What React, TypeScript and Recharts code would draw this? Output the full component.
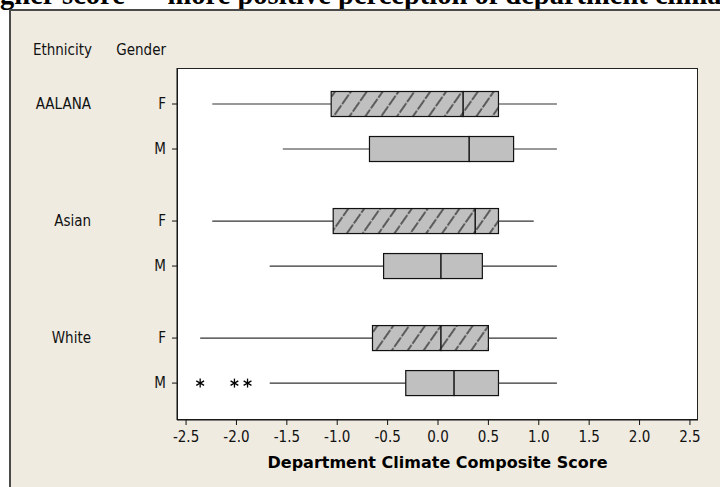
import React from 'react';
import { ComposedChart, Bar, XAxis, YAxis, ReferenceDot } from 'recharts';

const ethnicities = ['AALANA', 'Asian', 'White'];
const genders = ['F', 'M'];

// one entry per ethnicity x gender row, top to bottom
const whiskerLow = [-2.24, -1.54, -2.24, -1.67, -2.36, -1.67];
const q1 = [-1.06, -0.68, -1.04, -0.54, -0.65, -0.32];
const median = [0.25, 0.31, 0.37, 0.03, 0.03, 0.16];
const q3 = [0.6, 0.75, 0.6, 0.44, 0.5, 0.6];
const whiskerHigh = [1.18, 1.18, 0.95, 1.18, 1.18, 1.18];

const outlierRow = [5, 5, 5];
const outlierValue = [-2.36, -2.02, -1.89];

const xTicks = [-2.5, -2.0, -1.5, -1.0, -0.5, 0.0, 0.5, 1.0, 1.5, 2.0, 2.5];

const GROUP_STEP = 2.6;
const FONT = '"DejaVu Sans Condensed", "DejaVu Sans", sans-serif';

const rows = ethnicities.flatMap((eth, g) =>
  genders.map((gen, s) => {
    const i = g * genders.length + s;
    return {
      eth,
      gen,
      pos: g * GROUP_STEP + s,
      base: whiskerLow[i],
      lowW: q1[i] - whiskerLow[i],
      boxLo: median[i] - q1[i],
      boxHi: q3[i] - median[i],
      highW: whiskerHigh[i] - q3[i],
    };
  })
);

const Empty = () => <g />;

function Whisker(props: any) {
  const { x, y, width, height } = props;
  const cy = y + height / 2;
  return <line x1={x} x2={x + width} y1={cy} y2={cy} stroke="#333" strokeWidth={1.2} />;
}

function Box(props: any) {
  const { x, y, width, height, payload } = props;
  return (
    <g>
      <rect x={x} y={y} width={width} height={height} fill="#c0c0c0" />
      {payload.gen === 'F' && <rect x={x} y={y} width={width} height={height} fill="url(#hatch)" />}
      <rect x={x} y={y} width={width} height={height} fill="none" stroke="#111" strokeWidth={1.2} />
    </g>
  );
}

function Star(props: any) {
  const { cx, cy } = props;
  const r = 4.5;
  const dx = r * Math.cos(Math.PI / 6);
  const dy = r * Math.sin(Math.PI / 6);
  return (
    <g stroke="#000" strokeWidth={1.3}>
      <line x1={cx} x2={cx} y1={cy - r} y2={cy + r} />
      <line x1={cx - dx} x2={cx + dx} y1={cy - dy} y2={cy + dy} />
      <line x1={cx - dx} x2={cx + dx} y1={cy + dy} y2={cy - dy} />
    </g>
  );
}

function RowTick(props: any) {
  const { x, y, payload } = props;
  const row = rows.find((r) => Math.abs(r.pos - payload.value) < 1e-6);
  if (!row) return null;
  return (
    <g fontFamily={FONT} fontSize={15} fill="#111">
      <text x={x} y={y} textAnchor="end" dominantBaseline="central">{row.gen}</text>
      {row.gen === 'F' && (
        <text x={x - 75} y={y} textAnchor="end" dominantBaseline="central">{row.eth}</text>
      )}
    </g>
  );
}

export default function App() {
  return (
    <div style={{ position: 'fixed', left: 0, top: 0, width: 720, height: 487, background: '#fff', overflow: 'hidden' }}>
      <svg width={0} height={0} style={{ position: 'absolute' }}>
        <defs>
          <pattern id="hatch" patternUnits="userSpaceOnUse" width={13} height={13} patternTransform="rotate(35)">
            <line x1={2} x2={2} y1={0} y2={13} stroke="#262626" strokeWidth={1.3} strokeDasharray="6 1.5" />
          </pattern>
        </defs>
      </svg>
      <div
        style={{
          position: 'absolute', left: -30, top: -19, whiteSpace: 'nowrap',
          fontFamily: '"Liberation Serif", serif', fontWeight: 'bold', fontSize: 28.5, lineHeight: '28.5px', color: '#000',
        }}
      >
        Higher score — more positive perception of department climate
      </div>
      <div
        style={{
          position: 'absolute', left: 9, top: 9, width: 760, height: 520, background: '#efebe1',
          borderLeft: '2px solid #4a4a4a', borderTop: '2px solid #4a4a4a',
        }}
      />
      <div style={{ position: 'absolute', left: 177, top: 68, width: 521, height: 352, background: '#fff', border: '1px solid #222', boxSizing: 'border-box' }} />
      <div style={{ position: 'absolute', right: 720 - 92, top: 41, fontFamily: FONT, fontSize: 15, color: '#111' }}>Ethnicity</div>
      <div style={{ position: 'absolute', right: 720 - 166, top: 41, fontFamily: FONT, fontSize: 15, color: '#111' }}>Gender</div>
      <div style={{ position: 'absolute', left: 0, top: 0 }}>
        <ComposedChart
          width={720}
          height={487}
          data={rows}
          layout="vertical"
          margin={{ top: 68, right: 22, bottom: 0, left: 0 }}
        >
          <XAxis
            type="number"
            domain={[-2.59, 2.58]}
            allowDataOverflow
            ticks={xTicks}
            tickFormatter={(v: number) => v.toFixed(1)}
            height={67}
            tickSize={5}
            tickMargin={6}
            stroke="#111"
            tick={{ fill: '#111', fontSize: 15, fontFamily: FONT }}
            label={{
              value: 'Department Climate Composite Score',
              position: 'insideBottom',
              offset: 19,
              fill: '#000',
              fontSize: 16,
              fontWeight: 'bold',
              fontFamily: '"DejaVu Sans", sans-serif',
            }}
          />
          <YAxis
            type="number"
            dataKey="pos"
            domain={[-0.8, 7.02]}
            allowDataOverflow
            ticks={rows.map((r) => r.pos)}
            width={177}
            tickSize={5}
            tickMargin={6}
            stroke="#111"
            tick={<RowTick />}
          />
          <Bar dataKey="base" stackId="s" barSize={25} shape={<Empty />} isAnimationActive={false} />
          <Bar dataKey="lowW" stackId="s" barSize={25} shape={<Whisker />} isAnimationActive={false} />
          <Bar dataKey="boxLo" stackId="s" barSize={25} shape={<Box />} isAnimationActive={false} />
          <Bar dataKey="boxHi" stackId="s" barSize={25} shape={<Box />} isAnimationActive={false} />
          <Bar dataKey="highW" stackId="s" barSize={25} shape={<Whisker />} isAnimationActive={false} />
          {outlierValue.map((v, i) => (
            <ReferenceDot key={i} x={v} y={rows[outlierRow[i]].pos} shape={<Star />} />
          ))}
        </ComposedChart>
      </div>
    </div>
  );
}
